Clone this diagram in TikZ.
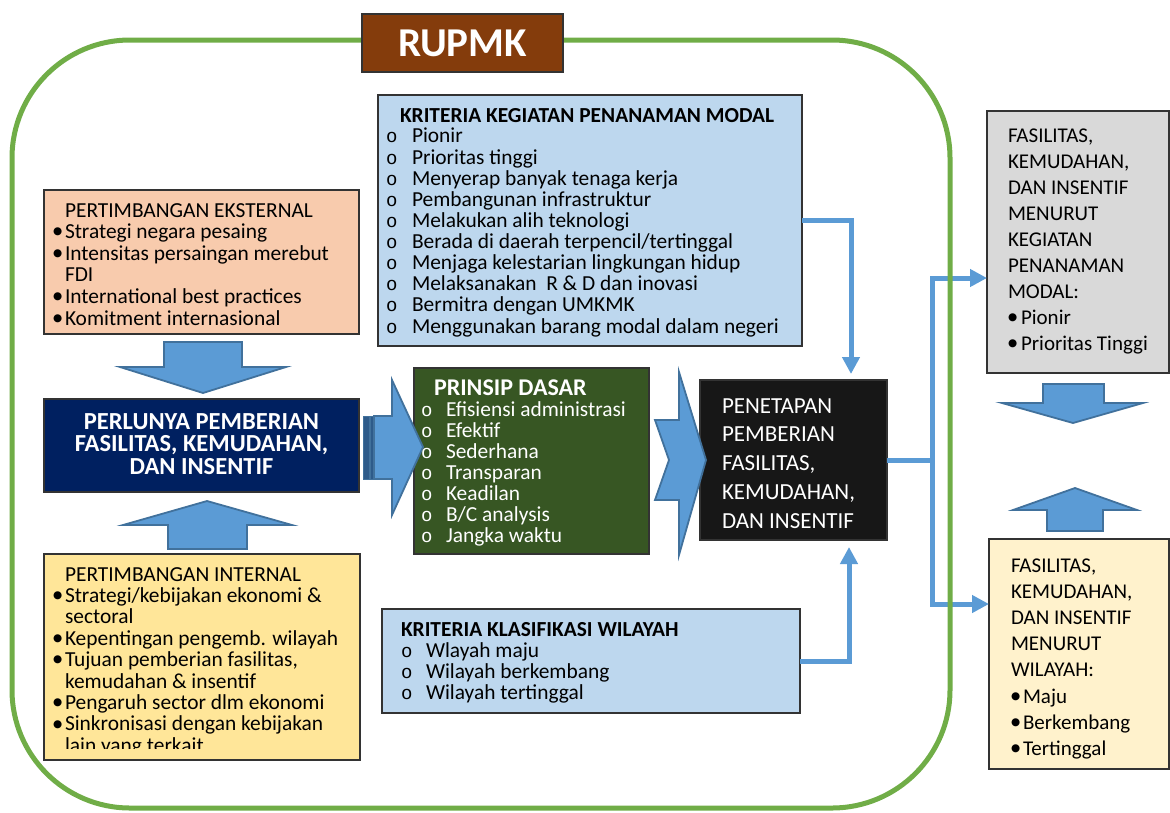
\documentclass[tikz,border=0pt]{standalone}
\usepackage{fontspec}
\setmainfont{Carlito}
\newfontfamily\monof{Liberation Mono}
\newfontfamily\dejavuf{DejaVu Sans}
\usetikzlibrary{arrows.meta,calc}
\definecolor{peach}{HTML}{F8CBAD}
\definecolor{navy}{HTML}{002060}
\definecolor{ylw}{HTML}{FFE699}
\definecolor{lblue}{HTML}{BDD7EE}
\definecolor{dgreen}{HTML}{375623}
\definecolor{nblack}{HTML}{171717}
\definecolor{lgray}{HTML}{D9D9D9}
\definecolor{lylw}{HTML}{FFF2CC}
\definecolor{brn}{HTML}{843C0C}
\definecolor{grn}{HTML}{70AD47}
\definecolor{ablue}{HTML}{5B9BD5}
\definecolor{adark}{HTML}{41719C}
\definecolor{astripe}{HTML}{2E5B8A}
\definecolor{boxline}{HTML}{333333}
\newcommand{\bdot}[1][12pt]{\makebox[#1][l]{\raisebox{3.8pt}{\fontsize{10.5}{10.5}\dejavuf ●}}}
\newcommand{\bcirc}[1][24pt]{\makebox[#1][l]{\fontsize{19}{19}\monof o}}
\begin{document}
\begin{tikzpicture}[x=1pt,y=-1pt,
  box/.style={draw=boxline, line width=1.3pt, inner sep=0pt, outer sep=0pt},
  txt/.style={inner sep=0pt, outer sep=0pt, anchor=base west},
  blk/.style={fill=ablue, draw=adark, line width=1.8pt, line join=miter},
  conn/.style={draw=ablue, line width=5pt},
  conntip/.style={-{Triangle[width=17pt,length=17pt]}}
]
\useasboundingbox (0,0) rectangle (1170,812);

% boxes
\node[box, fill=peach, minimum width=315pt, minimum height=144pt] (ext) at (201.5,262) {};
\node[box, fill=navy, minimum width=315pt, minimum height=93pt] (perl) at (201.5,445.5) {};
\node[box, fill=ylw, minimum width=316pt, minimum height=206pt] (int) at (202,657) {};
\node[box, fill=lblue, minimum width=424pt, minimum height=251pt] (kk) at (590,220.5) {};
\node[box, fill=dgreen, minimum width=235pt, minimum height=186pt] (pd) at (531.5,461) {};
\node[box, fill=nblack, minimum width=187pt, minimum height=160pt] (pen) at (793.5,460) {};
\node[box, fill=lblue, minimum width=418pt, minimum height=104pt] (kw) at (591,661) {};
\node[box, fill=lgray, minimum width=182pt, minimum height=262pt] (gray) at (1078,242) {};
\node[box, fill=lylw, minimum width=180pt, minimum height=230pt] (yl) at (1079,654) {};

% connectors
\coordinate (penT) at (851,380);
\coordinate (penB) at (849,540);
\coordinate (split) at (932,460);
\coordinate (gin) at (987,278);
\coordinate (yin) at (989,604);
\draw[conn, conntip, shorten >=6pt] (kk.east) -| (penT);
\draw[conn, conntip, shorten >=7pt] (kw.east) -| (penB);
\draw[conn] (pen.east) -- (split);
\draw[conn, conntip] (split) |- (gin);
\draw[conn, conntip] (split) |- (yin);

% outer frame
\draw[grn, line width=5pt, rounded corners=118pt] (12,40) rectangle (950,808);
\node[box, fill=brn, minimum width=201pt, minimum height=58pt, text=white,
      font=\fontsize{41}{41}\selectfont\bfseries] (rup) at (462.5,43) {RUPMK};

% block arrows
\draw[blk] (164,342) -- (242,342) -- (242,367) -- (286,367) -- (203,393) -- (120,367) -- (164,367) -- cycle;
\draw[blk] (168,549) -- (247,549) -- (247,525) -- (292,525) -- (207,501) -- (123,525) -- (168,525) -- cycle;
\draw[fill=astripe, draw=adark, line width=1pt] (363,416) rectangle (369,479);
\draw[fill=astripe, draw=adark, line width=1pt] (370.5,416) rectangle (374,479);
\draw[blk] (374,416) -- (392,416) -- (392,380) -- (423,447) -- (392,515) -- (392,479) -- (374,479) -- cycle;
\draw[blk] (655,420) -- (679,420) -- (679,372) -- (706,460) -- (679,555) -- (679,500) -- (655,500) -- (669,460) -- cycle;
\draw[blk] (1043,384) -- (1104,384) -- (1104,403) -- (1143,403) -- (1073,423) -- (1002,403) -- (1043,403) -- cycle;
\draw[blk] (1047,531) -- (1103,531) -- (1103,510) -- (1137,510) -- (1075,488) -- (1013,510) -- (1047,510) -- cycle;

% texts
\node[txt] (extT) at (53,217) {\fontsize{21.4}{21.6}\selectfont\begin{tabular}[t]{@{}l@{}}
\hspace{12pt}PERTIMBANGAN EKSTERNAL\\
\bdot Strategi negara pesaing\\
\bdot Intensitas persaingan merebut\\
\hspace{12pt}FDI\\
\bdot International best practices\\
\bdot Komitment internasional
\end{tabular}};

\node[inner sep=0pt, anchor=base, text=white] (perlT) at (201.5,429) {\fontsize{24.5}{22.5}\selectfont\bfseries\begin{tabular}[t]{@{}c@{}}
PERLUNYA PEMBERIAN\\
FASILITAS, KEMUDAHAN,\\
DAN INSENTIF
\end{tabular}};

\begin{scope}
\clip (44,554) rectangle (360,748);
\node[txt] (intT) at (53,581) {\fontsize{21.4}{21.4}\selectfont\begin{tabular}[t]{@{}l@{}}
\hspace{12pt}PERTIMBANGAN INTERNAL\\
\bdot Strategi/kebijakan ekonomi \&\\
\hspace{12pt}sectoral\\
\bdot Kepentingan pengemb. wilayah\\
\bdot Tujuan pemberian fasilitas,\\
\hspace{12pt}kemudahan \& insentif\\
\bdot Pengaruh sector dlm ekonomi\\
\bdot Sinkronisasi dengan kebijakan\\
\hspace{12pt}lain yang terkait
\end{tabular}};
\end{scope}

\node[txt] (kkT) at (386,122) {\fontsize{21.4}{20.9}\selectfont\begin{tabular}[t]{@{}l@{}}
\hspace{14pt}\textbf{KRITERIA KEGIATAN PENANAMAN MODAL}\\
\bcirc[26pt]Pionir\\
\bcirc[26pt]Prioritas tinggi\\
\bcirc[26pt]Menyerap banyak tenaga kerja\\
\bcirc[26pt]Pembangunan infrastruktur\\
\bcirc[26pt]Melakukan alih teknologi\\
\bcirc[26pt]Berada di daerah terpencil/tertinggal\\
\bcirc[26pt]Menjaga kelestarian lingkungan hidup\\
\bcirc[26pt]Melaksanakan~ R \& D dan inovasi\\
\bcirc[26pt]Bermitra dengan UMKMK\\
\bcirc[26pt]Menggunakan barang modal dalam negeri
\end{tabular}};

\node[txt, text=white] (pdT) at (421,395) {\fontsize{21.4}{21}\selectfont\begin{tabular}[t]{@{}l@{}}
\hspace{13pt}{\fontsize{24}{21}\selectfont\textbf{PRINSIP DASAR}}\\
\bcirc[25pt]Efisiensi administrasi\\
\bcirc[25pt]Efektif\\
\bcirc[25pt]Sederhana\\
\bcirc[25pt]Transparan\\
\bcirc[25pt]Keadilan\\
\bcirc[25pt]B/C analysis\\
\bcirc[25pt]Jangka waktu
\end{tabular}};

\node[txt, text=white] (penT2) at (722,413) {\fontsize{23}{28.8}\selectfont\begin{tabular}[t]{@{}l@{}}
PENETAPAN\\
PEMBERIAN\\
FASILITAS,\\
KEMUDAHAN,\\
DAN INSENTIF
\end{tabular}};

\node[txt] (kwT) at (401,636) {\fontsize{21.4}{21}\selectfont\begin{tabular}[t]{@{}l@{}}
\textbf{KRITERIA KLASIFIKASI WILAYAH}\\
\bcirc[25pt]Wlayah maju\\
\bcirc[25pt]Wilayah berkembang\\
\bcirc[25pt]Wilayah tertinggal
\end{tabular}};

\node[txt] (grayT) at (1008,142) {\fontsize{21}{26}\selectfont\begin{tabular}[t]{@{}l@{}}
FASILITAS,\\
KEMUDAHAN,\\
DAN INSENTIF\\
MENURUT\\
KEGIATAN\\
PENANAMAN\\
MODAL:\\
\bdot[13pt]Pionir\\
\bdot[13pt]Prioritas Tinggi
\end{tabular}};

\node[txt] (ylT) at (1011,572) {\fontsize{21}{26.2}\selectfont\begin{tabular}[t]{@{}l@{}}
FASILITAS,\\
KEMUDAHAN,\\
DAN INSENTIF\\
MENURUT\\
WILAYAH:\\
\bdot[12pt]Maju\\
\bdot[12pt]Berkembang\\
\bdot[12pt]Tertinggal
\end{tabular}};
\end{tikzpicture}
\end{document}
